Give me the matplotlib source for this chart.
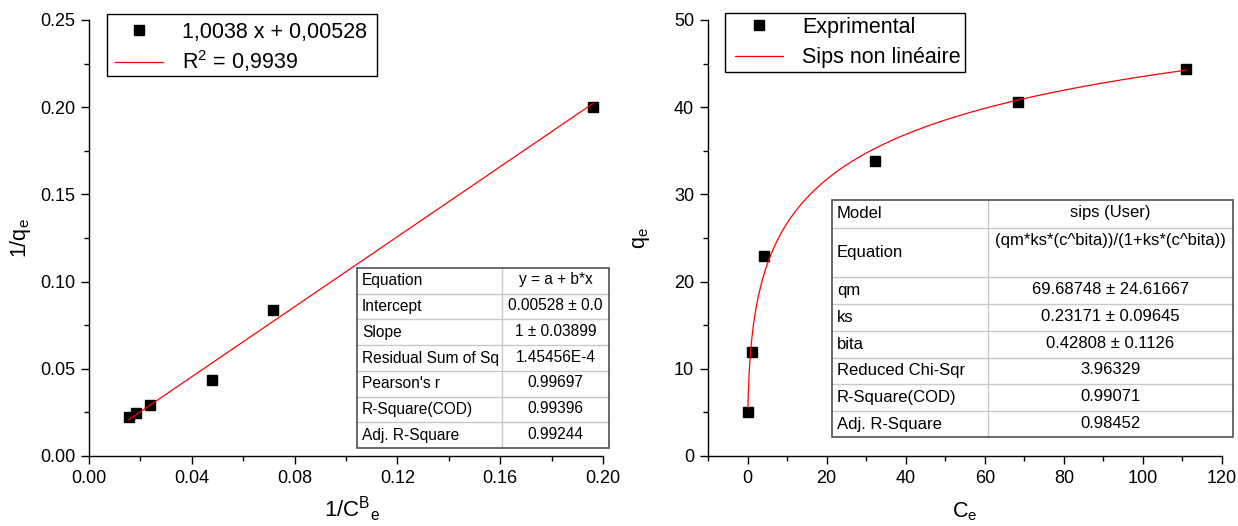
import numpy as np
import matplotlib
matplotlib.use("Agg")
import matplotlib.pyplot as plt
from matplotlib.ticker import MultipleLocator, FormatStrFormatter
from matplotlib.patches import Rectangle
from matplotlib.lines import Line2D

plt.rcParams['font.family'] = ['Liberation Sans', 'DejaVu Sans']

# ---------------- data ----------------
inv_ce = [0.0155, 0.0183, 0.0236, 0.0477, 0.0715, 0.1961]
inv_qe = [0.0224, 0.0245, 0.0292, 0.0434, 0.0837, 0.2001]
lin_slope = 1.0038
lin_intercept = 0.00528

ce = [0.1, 1.2, 4.1, 32.2, 68.5, 111.0]
qe = [5.0, 11.9, 22.9, 33.8, 40.6, 44.4]
qm, ks, bita = 69.68748, 0.23171, 0.42808

left_legend = ["1,0038 x + 0,00528", r"R$^\mathregular{2}$ = 0,9939"]
right_legend = ["Exprimental", "Sips non linéaire"]

left_table = [
    ("Equation", "y = a + b*x"),
    ("Intercept", "0.00528 ± 0.0"),
    ("Slope", "1 ± 0.03899"),
    ("Residual Sum of Sq", "1.45456E-4"),
    ("Pearson's r", "0.99697"),
    ("R-Square(COD)", "0.99396"),
    ("Adj. R-Square", "0.99244"),
]
right_table = [
    ("Model", "sips (User)"),
    ("Equation", "(qm*ks*(c^bita))/(1+ks*(c^bita))"),
    ("qm", "69.68748 ± 24.61667"),
    ("ks", "0.23171 ± 0.09645"),
    ("bita", "0.42808 ± 0.1126"),
    ("Reduced Chi-Sqr", "3.96329"),
    ("R-Square(COD)", "0.99071"),
    ("Adj. R-Square", "0.98452"),
]

W, H = 1238, 526
fig = plt.figure(figsize=(W / 100, H / 100), dpi=100)


def fx(x):
    return x / W


def fy(y):
    return 1 - y / H


def make_ax(x0, x1, y0, y1):
    ax = fig.add_axes([fx(x0), fy(y1), fx(x1) - fx(x0), fy(y0) - fy(y1)])
    for s in ['top', 'right']:
        ax.spines[s].set_visible(False)
    for s in ['left', 'bottom']:
        ax.spines[s].set_linewidth(1.0)
    ax.tick_params(which='major', direction='out', length=6, width=1.0,
                   labelsize=13, colors='black', pad=4)
    ax.tick_params(which='minor', direction='out', length=3.5, width=1.0)
    return ax


def framed_legend(ax, anchor_px, box_px, spacing):
    leg = ax.legend(loc='upper left', bbox_to_anchor=(fx(anchor_px[0]), fy(anchor_px[1])),
                    bbox_transform=fig.transFigure, fontsize=15.5,
                    frameon=False, borderpad=0, handlelength=2.25,
                    handletextpad=0.88, labelspacing=spacing, borderaxespad=0)
    leg.set_zorder(10)
    x0, y0, x1, y1 = box_px
    rect = Rectangle((fx(x0), fy(y1)), fx(x1) - fx(x0), fy(y0) - fy(y1),
                     transform=fig.transFigure, facecolor='white',
                     edgecolor='black', lw=1.0, zorder=9, clip_on=False)
    ax.add_patch(rect)
    return leg


# ---------------- left panel ----------------
axL = make_ax(89, 603, 20, 456)
xx = np.array([min(inv_ce), max(inv_ce)])
axL.plot(inv_ce, inv_qe, 's', color='black', ms=7, zorder=3,
         label=left_legend[0])
axL.plot(xx, lin_slope * xx + lin_intercept, '-', color='red', lw=0.9,
         zorder=4, label=left_legend[1])
axL.set_xlim(0, 0.20)
axL.set_ylim(0, 0.25)
axL.xaxis.set_major_locator(MultipleLocator(0.04))
axL.xaxis.set_minor_locator(MultipleLocator(0.02))
axL.yaxis.set_major_locator(MultipleLocator(0.05))
axL.yaxis.set_minor_locator(MultipleLocator(0.025))
axL.xaxis.set_major_formatter(FormatStrFormatter('%.2f'))
axL.yaxis.set_major_formatter(FormatStrFormatter('%.2f'))
axL.set_xlabel(r"1/C$^\mathregular{B}{}_\mathregular{e}$", fontsize=16)
axL.xaxis.set_label_coords((352 - 89) / 514, (456 - 494) / 436)
axL.set_ylabel(r"1/q$_\mathregular{e}$", fontsize=15.5)
axL.yaxis.set_label_coords((33 - 89) / 514, 0.5)
framed_legend(axL, (115, 22), (107, 14, 377, 76), 0.25)

# ---------------- right panel ----------------
axR = make_ax(708, 1222, 20, 456)
cc = np.geomspace(min(ce), max(ce), 400)
axR.plot(ce, qe, 's', color='black', ms=7, zorder=3, label=right_legend[0])
axR.plot(cc, qm * ks * cc ** bita / (1 + ks * cc ** bita), '-', color='red',
         lw=0.9, zorder=4, label=right_legend[1])
axR.set_xlim(-10, 120)
axR.set_ylim(0, 50)
axR.xaxis.set_major_locator(MultipleLocator(20))
axR.xaxis.set_minor_locator(MultipleLocator(10))
axR.yaxis.set_major_locator(MultipleLocator(10))
axR.yaxis.set_minor_locator(MultipleLocator(5))
axR.set_xlabel(r"C$_\mathregular{e}$", fontsize=15.5)
axR.xaxis.set_label_coords(0.5, (456 - 500) / 436)
axR.set_ylabel(r"q$_\mathregular{e}$", fontsize=15.5)
axR.yaxis.set_label_coords((652 - 708) / 514, 0.5)
framed_legend(axR, (735, 17), (725, 13, 965, 72), 0.42)


# ---------------- tables ----------------
def draw_table(rows, x0, xm, x1, ys, fontsize, top_align=None):
    top_align = top_align or set()
    fig.patches.append(Rectangle((fx(x0), fy(ys[-1])), fx(x1) - fx(x0),
                                 fy(ys[0]) - fy(ys[-1]),
                                 transform=fig.transFigure, facecolor='white',
                                 edgecolor='none', zorder=5))
    for y in ys[1:-1]:
        fig.lines.append(Line2D([fx(x0), fx(x1)], [fy(y), fy(y)],
                                transform=fig.transFigure, color='#c8c8c8',
                                lw=1.0, zorder=6))
    fig.lines.append(Line2D([fx(xm), fx(xm)], [fy(ys[0]), fy(ys[-1])],
                            transform=fig.transFigure, color='#c8c8c8',
                            lw=1.0, zorder=6))
    fig.patches.append(Rectangle((fx(x0), fy(ys[-1])), fx(x1) - fx(x0),
                                 fy(ys[0]) - fy(ys[-1]),
                                 transform=fig.transFigure, facecolor='none',
                                 edgecolor='#505050', lw=1.2, zorder=7))
    for i, (a, b) in enumerate(rows):
        yc = (ys[i] + ys[i + 1]) / 2
        fig.text(fx(x0 + 5), fy(yc), a, fontsize=fontsize, ha='left',
                 va='center', zorder=8)
        if i in top_align:
            fig.text(fx((xm + x1) / 2), fy(ys[i] + 13), b, fontsize=fontsize,
                     ha='center', va='center', zorder=8)
        else:
            fig.text(fx((xm + x1) / 2), fy(yc - 1), b, fontsize=fontsize,
                     ha='center', va='center', zorder=8)


ysL = [268 + i * (448 - 268) / 7 for i in range(8)]
draw_table(left_table, 357, 502, 609, ysL, 11.2)

ysR = [200, 228, 277, 304, 331, 358, 384, 411, 437]
draw_table(right_table, 832, 988, 1233, ysR, 12, top_align={1})

fig.savefig("out.png", dpi=100)
